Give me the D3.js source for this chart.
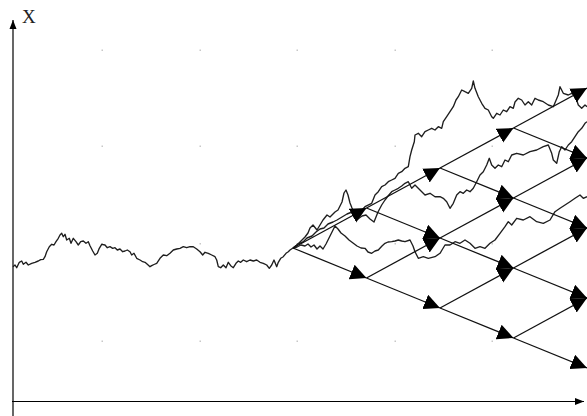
<!DOCTYPE html>
<html>
<head>
<meta charset="utf-8">
<script src="https://cdn.jsdelivr.net/npm/d3@7"></script>
<style>
  html, body { margin: 0; padding: 0; background: #fff; }
  svg { display: block; }
</style>
</head>
<body>
<svg id="chart" width="587" height="416"></svg>
<script>
// ---- data (time t, value X) ----
const mainPath = [
  [0,134.3],[2,136],[3.7,133.3],[6.3,138.7],[8.7,140],[10.3,136.7],[13,138.7],[15.3,136],[18.7,137.7],[22,138.7],
  [25.3,140],[27.7,141.3],[30.3,141.7],[32,144.3],[33.7,149.3],[36.3,154.3],[38.7,156.7],[41,156],[43,159.3],[45.3,162.7],
  [47,166],[48.7,167.7],[50.3,164.3],[52,166.7],[53.7,161],[56.3,162.7],[58,157.7],[60.3,162.7],[63,159.3],[65.3,156],
  [67.7,159.3],[70.3,160],[73,157.7],[75.3,159.3],[77,155.3],[79.7,150],[82,146],[84.3,147.7],[86.3,152.7],[88.7,156.7],
  [92,156],[94.3,153.3],[97,154.3],[99.7,152.7],[102,153.3],[104.3,151],[107,152],[109.7,149.3],[112,150],[114.3,151],
  [117,149.3],[118.7,146],[121,147.7],[123.7,142.7],[127,141],[129.7,139.3],[132,138.7],[134.3,136.7],[137,134.3],[138.7,135.3],
  [141,136.5],[143.7,137.7],[147,142.7],[150.3,146],[153.7,145.3],[157,147.7],[160.3,151],[163.7,152],[167,152.7],[170.3,154.3],
  [173.7,153.3],[177,154.3],[180.3,154.3],[183.7,152],[187,149.3],[189.7,146],[192,148.7],[195.3,147.7],[198.7,146],[202,144.3],
  [203.7,141],[205.3,134.3],[207.7,133.3],[210.3,136],[213,133.3],[215.3,138.7],[217.7,135.3],[220.3,133.3],[223,137.7],[225.3,140],
  [227.7,138.7],[230.3,141],[233.7,139.3],[237,141],[240.3,140],[243.7,141],[247,138.7],[250.3,137.7],[253.7,136],[256.3,132.7],
  [258.7,136],[261,141],[263.7,134.3],[265.3,138.7],[267.7,142.7],[270.3,144.3],[273,147.7],[275.3,149.3],[277,151],[280,153]
];
const pathA = [
  [280,153],[285,157],[290,159],[294,163],[299,165],[303,169],[307,172],[311,173],[315,177],[320,179],
  [324,181],[329,184],[334,187],[339,189],[344,191],[348,190],[352,194.3],[358.7,197.7],[362,206],[365.3,209.3],
  [368.7,214.3],[372,216],[375.3,219.3],[378.7,221],[382,222.7],[385.3,227.7],[388.7,229.3],[392,232.7],[395.3,234.3],[397,244.3],
  [398.7,251],[401.3,259.3],[402,266],[405.3,267.7],[408.7,264.3],[412,269.3],[415.3,271],[418.7,272.7],[422,271],[425.3,274.3],
  [428.7,272.7],[430.3,279.3],[433.7,284.3],[437,289.3],[440.3,294.3],[443,301],[445.3,304.3],[448.7,311],[452,309.3],[455.3,307.7],
  [458.7,312.7],[460.3,320],[462,312.7],[465.3,304.3],[468.7,297.7],[472,292.7],[475.3,291],[478.7,284.3],[480.3,282.7],[483.7,287.7],
  [487,286],[490.3,291],[493.7,289.3],[497,294.3],[500.3,292.7],[502,299],[505.3,302.7],[508.7,301],[512,296],[515.3,299.3],
  [518.7,296],[522,302.7],[525.3,301],[530.3,299.3],[535.3,296],[540.3,294.3],[545.3,306],[547,314.3],[550.3,307.7],[555.3,306],
  [558.7,307.7],[562,306],[565.3,296],[568.7,292.7],[572,296],[574,294.3]
];
const pathB = [
  [280,153],[284,156],[288,160],[292,164],[295,168],[297,173],[300,176],[304,171],[307,176],[310,181],
  [314,186],[317,184],[322,189],[325,191],[329,199],[331,208],[333,211],[335,206],[337,198],[339,193],
  [342,187],[345,182],[349,185],[353,186],[357,182],[361,179],[365,189],[368.7,196],[372,201],[375,205],
  [378.7,209.3],[382,211],[385.3,212.7],[388.7,215],[392,217.7],[395.3,219.3],[398.7,212.7],[402,216],[407,211],[412,206],
  [417,207.7],[422,204.3],[427,204.3],[430.3,202.7],[433.7,199.3],[437,192.7],[440.3,197.7],[443.7,206],[447,209.3],[450.3,207.7],
  [453.7,211],[457,209.3],[460.3,212.7],[463.7,219.3],[467,226],[470.3,229.3],[473.7,236],[476.3,242.7],[478.7,236],[482,232.7],
  [485.3,236],[488.7,234.3],[492,241],[495.3,239.3],[498.7,246],[503.7,247.7],[510.3,246],[517,249.3],[523.7,251],[530.3,254.3],
  [535.3,256],[538.7,247.7],[540.3,241],[543.7,237.7],[546.3,249.3],[548.7,254.3],[552,251],[555.3,256],[558.7,259.3],[562,264.3],
  [565.3,269.3],[568.7,272.7],[572,277.7],[574,279.3]
];
const pathC = [
  [280,153],[284,154],[288,156],[292,155],[295,157],[298,154],[301,156],[304,152],[307,155],[310,152],
  [313,157],[316,163],[319,169],[322,175],[325,172],[328,168],[332,165],[336,161],[340,158],[344,155],
  [348,153],[352,152.7],[355,149],[358.7,147.7],[362,150],[365.3,151],[369,155],[372,157.7],[375,159],[378.7,159.3],
  [382,160],[385.3,161],[388.7,160],[392,159.3],[397,161],[400,155],[402,149.3],[405.3,142.7],[410.3,144.3],[415.3,142.7],
  [422,144.3],[427,147.7],[429,151],[432,156],[437,156],[442,159.3],[447,157.7],[452,161],[457,157.7],[462,152.7],
  [467,154.3],[472,152.7],[477,157.7],[482,161],[487,167.7],[492,174.3],[495.3,179.3],[498.7,176],[503.7,182.7],[510.3,181],
  [517,184.3],[523.7,179.3],[530.3,177.7],[537,181],[542,189.3],[547,192.7],[552,196],[557,199.3],[562,202.7],[567,206],
  [570.3,202.7],[574,204.3]
];
// binomial tree parameters
const treeStart = 280, treeStepLen = 73.5, treeSteps = 4;
const treeRoot = 153, upMove = 40, downMove = -30;
// faint background grid dots
const gridT = [89, 187, 284, 382, 479];
const gridX = [351, 255, 157.5, 60];
const axisLabel = "X";

// ---- scales ----
const svg = d3.select("#chart");
const x = d3.scaleLinear().domain([0, 574]).range([13, 587]);
const y = d3.scaleLinear().domain([0, 381]).range([401, 20]);

// markers
const defs = svg.append("defs");
defs.append("marker")
  .attr("id", "tri").attr("markerUnits", "userSpaceOnUse")
  .attr("viewBox", "0 -8 16 16").attr("refX", 16).attr("refY", 0)
  .attr("markerWidth", 16).attr("markerHeight", 16).attr("orient", "auto")
  .append("path").attr("d", "M0,-7.8L16,0L0,7.8Z").attr("fill", "#000");
defs.append("marker")
  .attr("id", "axarrow").attr("markerUnits", "userSpaceOnUse")
  .attr("viewBox", "0 -4 9 8").attr("refX", 9).attr("refY", 0)
  .attr("markerWidth", 9).attr("markerHeight", 8).attr("orient", "auto")
  .append("path").attr("d", "M0,-3.5L9,0L0,3.5Z").attr("fill", "#000");

// grid dots
const dots = [];
gridT.forEach(t => gridX.forEach(v => dots.push([t, v])));
svg.append("g").selectAll("rect").data(dots).join("rect")
  .attr("x", d => x(d[0]) - 0.5).attr("y", d => y(d[1]) - 0.5)
  .attr("width", 1.5).attr("height", 1.5).attr("fill", "#c8c8c8");

// axes
svg.append("line")
  .attr("x1", x(0)).attr("y1", y(-15)).attr("x2", x(0)).attr("y2", y(381))
  .attr("stroke", "#000").attr("stroke-width", 1.2).attr("marker-end", "url(#axarrow)");
svg.append("line")
  .attr("x1", x(-1)).attr("y1", y(-0.5)).attr("x2", x(571)).attr("y2", y(-0.5))
  .attr("stroke", "#000").attr("stroke-width", 1.2).attr("marker-end", "url(#axarrow)");
svg.append("text")
  .attr("x", x(9)).attr("y", y(378))
  .attr("font-family", "'Liberation Serif', 'Times New Roman', serif")
  .attr("font-size", 19).attr("fill", "#222").text(axisLabel);

// random walk paths
const line = d3.line().x(d => x(d[0])).y(d => y(d[1]));
svg.append("g").selectAll("path").data([mainPath, pathA, pathB, pathC]).join("path")
  .attr("d", line).attr("fill", "none").attr("stroke", "#1e1e1e")
  .attr("stroke-width", 1.35).attr("stroke-linejoin", "round");

// binomial tree
const node = (i, j) => [treeStart + i * treeStepLen, treeRoot + j * upMove + (i - j) * downMove];
const edges = [];
for (let i = 0; i < treeSteps; i++) {
  for (let j = 0; j <= i; j++) {
    edges.push([node(i, j), node(i + 1, j + 1)]);
    edges.push([node(i, j), node(i + 1, j)]);
  }
}
svg.append("g").selectAll("line").data(edges).join("line")
  .attr("x1", d => x(d[0][0])).attr("y1", d => y(d[0][1]))
  .attr("x2", d => x(d[1][0])).attr("y2", d => y(d[1][1]))
  .attr("stroke", "#111").attr("stroke-width", 1.3)
  .attr("marker-end", "url(#tri)");
</script>
</body>
</html>
